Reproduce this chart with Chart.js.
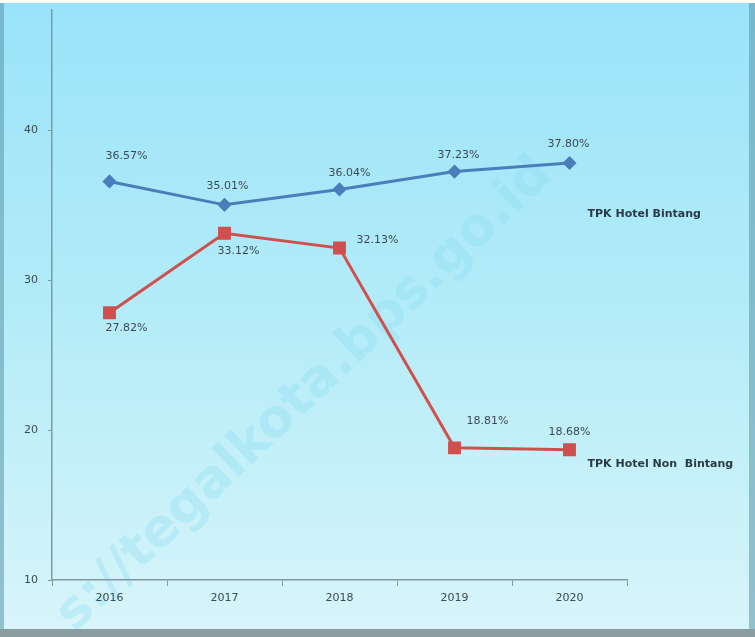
<!DOCTYPE html>
<html>
<head>
<meta charset="utf-8">
<script src="https://cdn.jsdelivr.net/npm/chart.js@4/dist/chart.umd.min.js"></script>
<style>
    html, body {margin: 0; padding: 0; background: #ffffff;}
    #wrap {position: relative; width: 755px; height: 637px; overflow: hidden;}
    #chart {position: absolute; left: 0; top: 0;}
</style>
</head>
<body>
<div id="wrap"><canvas id="chart" width="755" height="637"></canvas></div>
<script>
// data
const years = ["2016", "2017", "2018", "2019", "2020"]
const hotelBintang = [36.57, 35.01, 36.04, 37.23, 37.80]
const hotelNonBintang = [27.82, 33.12, 32.13, 18.81, 18.68]
const yTicks = [10, 20, 30, 40]
const seriesNames = ["TPK Hotel Bintang", "TPK Hotel Non  Bintang"]

// label offsets (px) from each point, just for placing the value text
const blueLabelOffsets = [[17, -25], [3, -19], [10, -16], [4, -16], [-1, -19]]
const redLabelOffsets = [[17, 15], [14, 18], [38, -8], [33, -27], [0, -18]]

function fmt(v) {
    return v.toFixed(2) + "%"
}

const frame = {
    id: "frame",
    beforeDraw(chart) {
        const ctx = chart.ctx
        let g = ctx.createLinearGradient(0, 0, 0, 637)
        g.addColorStop(0, "#9ae3fa")
        g.addColorStop(0.5, "#b4ecf8")
        g.addColorStop(1, "#d8f5fa")
        ctx.save()
        ctx.fillStyle = "#ffffff"
        ctx.fillRect(0, 0, 755, 637)
        ctx.fillStyle = g
        ctx.fillRect(0, 3, 755, 634)
        // darker edges of the box
        ctx.fillStyle = "rgba(90,150,170,0.55)"
        ctx.fillRect(0, 3, 4, 630)
        ctx.fillRect(749, 3, 6, 630)
        ctx.fillStyle = "#8c9da2"
        ctx.fillRect(0, 629, 755, 8)
        // watermark
        ctx.translate(305, 395)
        ctx.rotate(-0.76)
        ctx.font = "bold 52px 'DejaVu Sans'"
        ctx.fillStyle = "rgba(140,220,240,0.35)"
        ctx.textAlign = "center"
        ctx.textBaseline = "middle"
        ctx.fillText("s://tegalkota.bps.go.id", 0, 0)
        ctx.restore()
    },
    afterDatasetsDraw(chart) {
        const ctx = chart.ctx
        ctx.save()
        ctx.font = "11px 'DejaVu Sans'"
        ctx.fillStyle = "#3b4a55"
        ctx.textAlign = "center"
        ctx.textBaseline = "middle"
        const offs = [blueLabelOffsets, redLabelOffsets]
        chart.data.datasets.forEach((ds, i) => {
            chart.getDatasetMeta(i).data.forEach((pt, j) => {
                ctx.fillText(fmt(ds.data[j]), pt.x + offs[i][j][0], pt.y + offs[i][j][1])
            })
        })
        // series names at right side
        ctx.font = "bold 11px 'DejaVu Sans'"
        ctx.fillStyle = "#2a3a44"
        ctx.textAlign = "left"
        const b = chart.getDatasetMeta(0).data[4]
        const r = chart.getDatasetMeta(1).data[4]
        ctx.fillText(seriesNames[0], b.x + 18, b.y + 51)
        ctx.fillText(seriesNames[1], r.x + 18, r.y + 14)
        ctx.restore()
    }
}

const chart = new Chart(document.getElementById("chart"), {
    type: "line",
    data: {
        labels: years,
        datasets: [
            {
                label: seriesNames[0],
                data: hotelBintang,
                borderColor: "#4a7ebb",
                backgroundColor: "#4a7ebb",
                borderWidth: 3,
                pointStyle: "rectRot",
                pointRadius: 5,
                tension: 0
            },
            {
                label: seriesNames[1],
                data: hotelNonBintang,
                borderColor: "#d0504d",
                backgroundColor: "#d0504d",
                borderWidth: 3,
                pointStyle: "rect",
                pointRadius: 7,
                tension: 0
            }
        ]
    },
    options: {
        responsive: false,
        animation: false,
        layout: {padding: {top: 0, right: 128, bottom: 0, left: 0}},
        plugins: {legend: {display: false}, tooltip: {enabled: false}},
        scales: {
            x: {
                offset: true,
                grid: {
                    display: true,
                    offset: true,
                    drawOnChartArea: false,
                    drawTicks: true,
                    tickLength: 6,
                    color: "#7f9aa3"
                },
                border: {color: "#7f9aa3", width: 1.5},
                ticks: {
                    color: "#3b4a55",
                    font: {family: "DejaVu Sans", size: 11},
                    padding: 6
                },
                afterFit: (s) => { s.height = 57; s.paddingLeft = 0; s.paddingRight = 0 }
            },
            y: {
                min: 10,
                max: 48,
                afterBuildTicks: (s) => { s.ticks = yTicks.map(v => ({value: v})) },
                grid: {
                    drawOnChartArea: false,
                    drawTicks: true,
                    tickLength: 4,
                    color: "#7f9aa3"
                },
                border: {color: "#7f9aa3", width: 1.5},
                ticks: {
                    color: "#3b4a55",
                    font: {family: "DejaVu Sans", size: 11},
                    padding: 10
                },
                afterFit: (s) => { s.width = 52; s.paddingTop = 0; s.paddingBottom = 0 }
            }
        }
    },
    plugins: [frame]
})
</script>
</body>
</html>
